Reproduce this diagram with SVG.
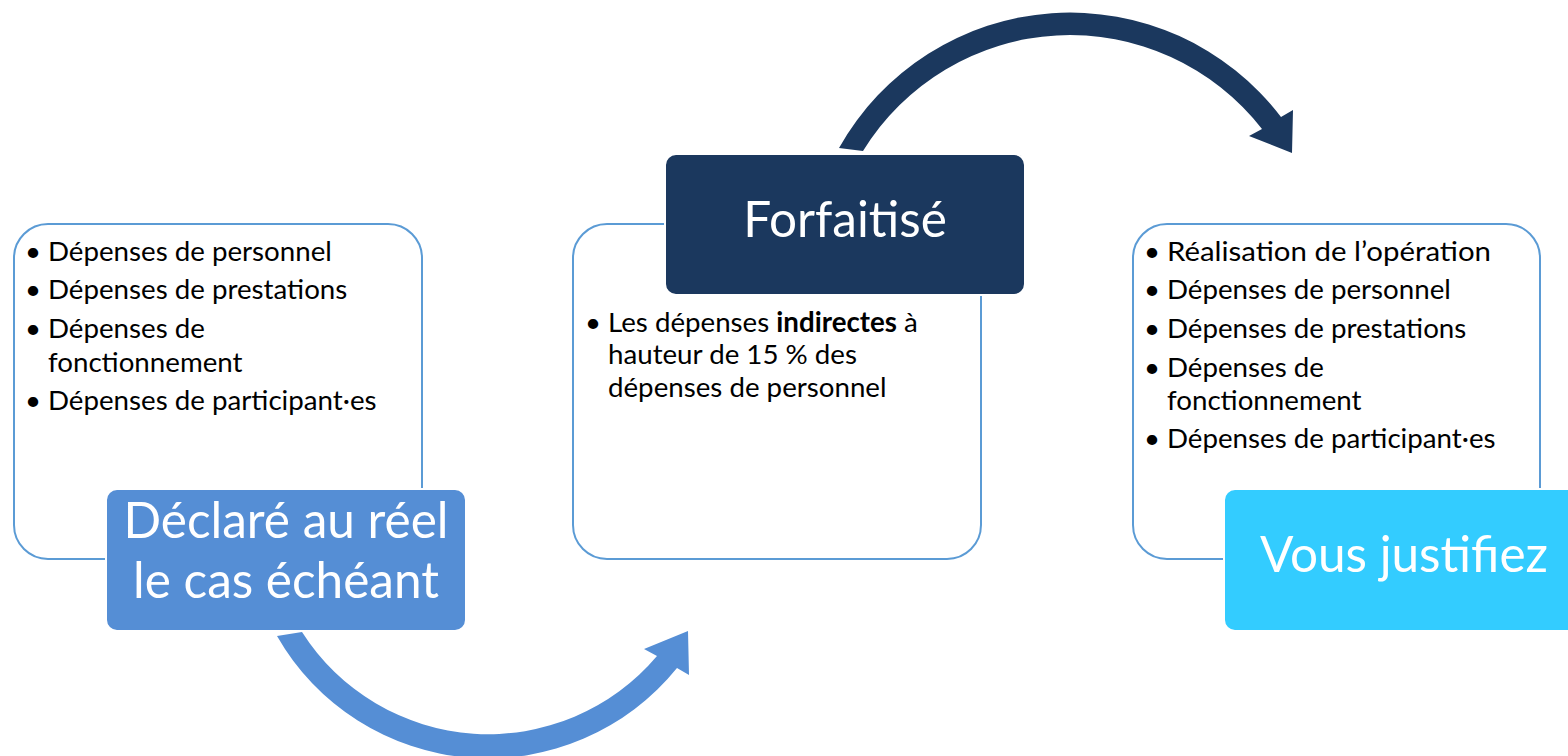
<svg xmlns="http://www.w3.org/2000/svg" width="1568" height="756" viewBox="0 0 1568 756">
<style>
.box{fill:#fff;stroke:#5B9BD5;stroke-width:2}
.lbl{stroke:#fff;stroke-width:2}
.t{font-family:Lato,"Liberation Sans",sans-serif;font-size:27.7px;fill:#000}
.b{font-weight:bold}
.big{font-family:Lato,"Liberation Sans",sans-serif;font-size:49.5px;fill:#fff;text-anchor:middle}
.dot{text-anchor:middle}
</style>
<rect width="1568" height="756" fill="#fff"/>
<g id="box-reel">
<rect class="box" x="14" y="224" width="408" height="335" rx="34"/>
<text class="t dot" x="33" y="261">•</text><text class="t" x="48" y="261">Dépenses de personnel</text>
<text class="t dot" x="33" y="299">•</text><text class="t" x="48" y="299">Dépenses de prestations</text>
<text class="t dot" x="33" y="338">•</text><text class="t" x="48" y="338">Dépenses de</text>
<text class="t" x="48" y="372">fonctionnement</text>
<text class="t dot" x="33" y="410">•</text><text class="t" x="48" y="410">Dépenses de participant·es</text>
</g>
<g id="box-forfait">
<rect class="box" x="573" y="224" width="408" height="335" rx="34"/>
<text class="t dot" x="593" y="332">•</text><text class="t" x="608" y="332">Les dépenses <tspan class="b">indirectes</tspan> à</text>
<text class="t" x="608" y="364">hauteur de 15 % des</text>
<text class="t" x="608" y="397">dépenses de personnel</text>
</g>
<g id="box-justif">
<rect class="box" x="1133" y="224" width="407" height="335" rx="34"/>
<text class="t dot" x="1152" y="261">•</text><text class="t" x="1167" y="261" textLength="324" lengthAdjust="spacingAndGlyphs">Réalisation de l’opération</text>
<text class="t dot" x="1152" y="299">•</text><text class="t" x="1167" y="299">Dépenses de personnel</text>
<text class="t dot" x="1152" y="338">•</text><text class="t" x="1167" y="338">Dépenses de prestations</text>
<text class="t dot" x="1152" y="377">•</text><text class="t" x="1167" y="377">Dépenses de</text>
<text class="t" x="1167" y="410">fonctionnement</text>
<text class="t dot" x="1152" y="448">•</text><text class="t" x="1167" y="448">Dépenses de participant·es</text>
</g>
<g id="label-reel">
<rect class="lbl" x="106" y="489" width="360" height="142" rx="11" fill="#558ED5"/>
<text class="big" x="286" y="538">Déclaré au réel</text>
<text class="big" x="286" y="598">le cas échéant</text>
</g>
<g id="label-forfait">
<rect class="lbl" x="665" y="154" width="360" height="141" rx="11" fill="#1B385E"/>
<text class="big" x="845" y="237">Forfaitisé</text>
</g>
<g id="label-justif">
<rect class="lbl" x="1224" y="489" width="360" height="142" rx="11" fill="#33CCFF"/>
<text class="big" x="1404" y="572">Vous justifiez</text>
</g>
<g id="connectors">
<path fill="#558ED5" d="M277,636 A243,243 0 0 0 677,668 L689,675 L688,631 L644,649 L657,656 A221,221 0 0 1 302,632 Z"/>
<path fill="#1B385E" d="M839,148 A265,265 0 0 1 1281,117 L1293,110 L1292,153 L1249,136 L1262,129 A243,243 0 0 0 863,151 Z"/>
</g>
</svg>
